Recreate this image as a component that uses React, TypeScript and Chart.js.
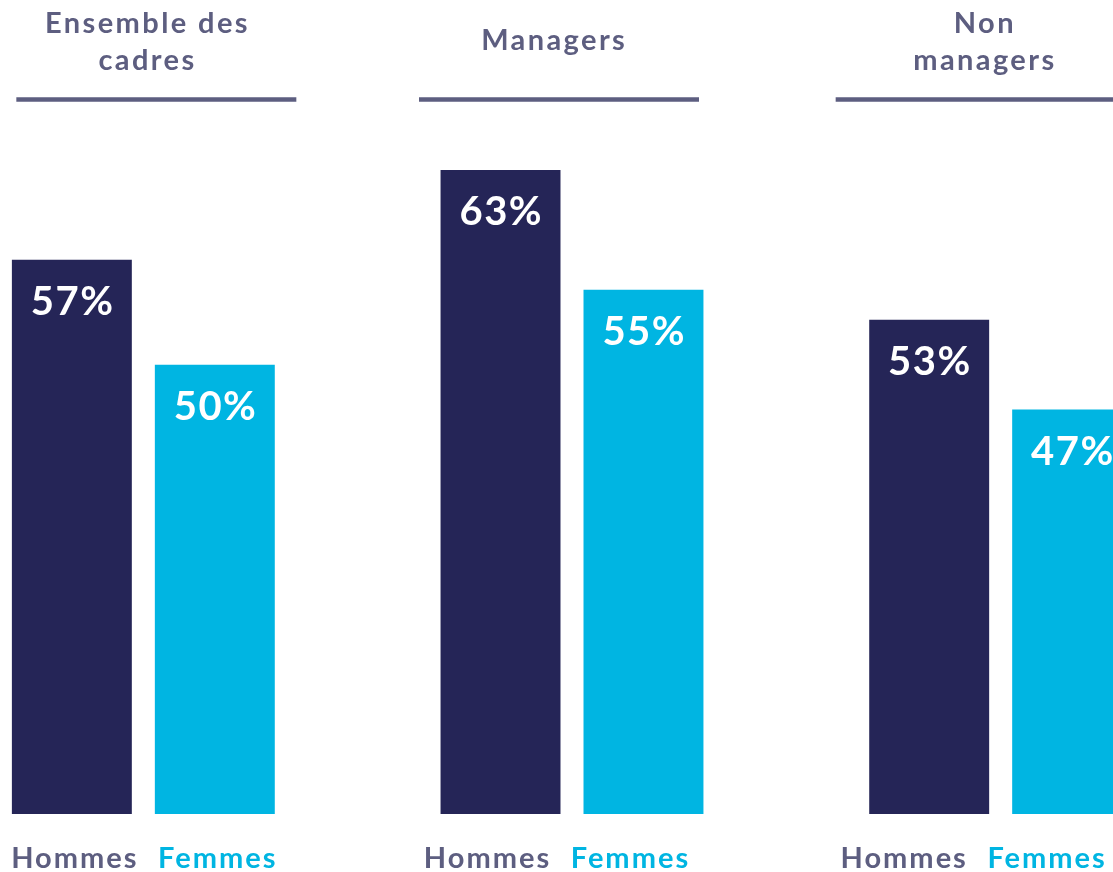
import React, { useEffect, useRef } from "react";
import { Chart, registerables } from "chart.js";

Chart.register(...registerables);

const groups: string[][] = [["Ensemble des", "cadres"], ["Managers"], ["Non", "managers"]];
const seriesNames = ["Hommes", "Femmes"];
const hommes = [57, 63, 53];
const femmes = [50, 55, 47];

const NAVY = "#252557";
const CYAN = "#00B5E2";
const GREY = "#5D5E80";
const FONT = "Lato, 'Open Sans', sans-serif";

// layout tweaks (px) relative to group centers
const titleShift = [3, -19, -17];
const lineShift = [13, -13, -25];
const labelShift = [2, -14, -26];

function spaced(ctx: any, text: string, x: number, y: number, spacing: number) {
  ctx.letterSpacing = `${spacing}px`;
  // compensate the trailing spacing so the text stays centered
  ctx.fillText(text, x + spacing / 2, y);
  ctx.letterSpacing = "0px";
}

const overlayPlugin = {
  id: "overlay",
  afterDatasetsDraw(chart: any) {
    const ctx = chart.ctx;
    const xs = chart.scales.x;
    ctx.save();
    chart.data.datasets.forEach((ds: any, di: number) => {
      const meta = chart.getDatasetMeta(di);
      meta.data.forEach((bar: any, i: number) => {
        ctx.fillStyle = "#ffffff";
        ctx.font = `bold 40px ${FONT}`;
        ctx.textAlign = "center";
        ctx.textBaseline = "alphabetic";
        spaced(ctx, `${ds.data[i]}%`, bar.x, bar.y + 55, 1.5);
        ctx.fillStyle = di === 0 ? GREY : CYAN;
        ctx.font = `bold 29px ${FONT}`;
        spaced(ctx, seriesNames[di], bar.x + labelShift[i], 868, 2);
      });
    });
    groups.forEach((lines, i) => {
      const cx = xs.getPixelForValue(i);
      ctx.fillStyle = GREY;
      ctx.font = `bold 29px ${FONT}`;
      ctx.textAlign = "center";
      ctx.textBaseline = "alphabetic";
      if (lines.length === 1) {
        spaced(ctx, lines[0], cx + titleShift[i], 50, 2.4);
      } else {
        spaced(ctx, lines[0], cx + titleShift[i], 33, 2.4);
        spaced(ctx, lines[1], cx + titleShift[i], 70, 2.4);
      }
      ctx.strokeStyle = GREY;
      ctx.lineWidth = 4.5;
      ctx.beginPath();
      ctx.moveTo(cx + lineShift[i] - 140, 99.5);
      ctx.lineTo(cx + lineShift[i] + 140, 99.5);
      ctx.stroke();
    });
    ctx.restore();
  },
};

export default function App() {
  const ref = useRef<HTMLCanvasElement>(null);
  useEffect(() => {
    const canvas = ref.current!;
    const chart = new Chart(canvas, {
      type: "bar",
      data: {
        labels: groups.map((g) => g.join(" ")),
        datasets: [
          { label: seriesNames[0], data: hommes, backgroundColor: NAVY },
          { label: seriesNames[1], data: femmes, backgroundColor: CYAN },
        ],
      },
      options: {
        responsive: false,
        animation: false,
        layout: { padding: { top: 110, bottom: 58, left: 0, right: 0 } },
        datasets: {
          bar: { categoryPercentage: 0.667, barPercentage: 0.839 },
        },
        plugins: { legend: { display: false }, tooltip: { enabled: false } },
        scales: {
          x: { display: false },
          y: { display: false, min: 20, max: 67 },
        },
      },
      plugins: [overlayPlugin],
    });
    return () => chart.destroy();
  }, []);
  return (
    <div
      style={{
        position: "fixed",
        left: 0,
        top: 0,
        width: 1113,
        height: 872,
        overflow: "hidden",
        background: "#ffffff",
      }}
    >
      <canvas
        ref={ref}
        width={1286}
        height={872}
        style={{ position: "absolute", left: -71, top: 0, width: 1286, height: 872 }}
      />
    </div>
  );
}
